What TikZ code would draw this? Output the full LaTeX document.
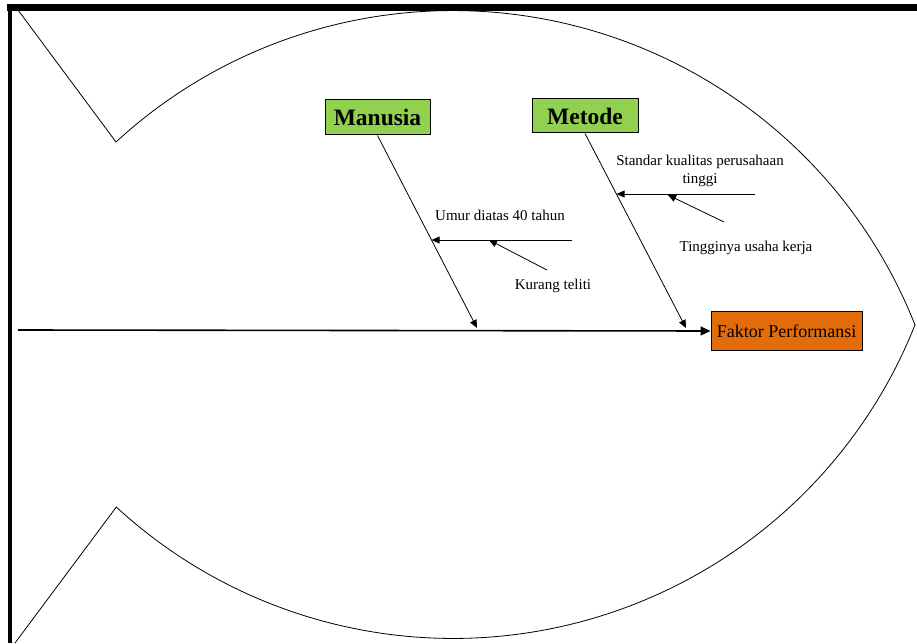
\documentclass[tikz,border=0pt]{standalone}
\usepackage{fontspec}
\setmainfont{Liberation Serif}
\definecolor{ijau}{HTML}{92D050}
\definecolor{oranye}{HTML}{E36C0A}
\usetikzlibrary{arrows.meta, calc}

\begin{document}
\begin{tikzpicture}[x=1pt, y=1pt,
        head/.style={rectangle, draw=black, fill=ijau, line width=1pt,
                     inner sep=0pt, text centered,
                     font=\fontsize{23.5}{25}\selectfont\bfseries},
        effect/.style={rectangle, draw=black, fill=oranye, line width=1pt,
                       inner sep=0pt, minimum width=151pt, minimum height=38pt,
                       text centered, font=\fontsize{18}{20}\selectfont},
        lbl/.style={font=\fontsize{15}{18}\selectfont, align=center, inner sep=0pt},
        arr/.style={-{Triangle[length=8pt, width=7pt]}, line width=0.8pt},
        spine/.style={-{Triangle[length=10pt, width=9pt]}, line width=1.6pt}
      ]
      \useasboundingbox (0,0) rectangle (917,643);
      % frame
      \fill (7,632) rectangle (917,639);
      \fill (8,0) rectangle (12,639);
      % fish
      \draw[line width=0.8pt] (18,633) -- (116,501)
        arc[start angle=132.64, end angle=21.57, radius=497.1]
        arc[start angle=-21.67, end angle=-132.64, radius=497.1]
        -- (15,0);

      \node[effect] (faktor) at (786.5,312) {Faktor Performansi};
      \node[head, minimum width=105pt, minimum height=35pt] (manusia) at (377.5,525.5) {Manusia};
      \node[head, minimum width=106pt, minimum height=34pt] (metode) at (585,527) {Metode};

      \coordinate (tail) at (18,313);
      \coordinate (mtip) at (477,315);
      \coordinate (ttip) at (686,315);
      \coordinate (u1) at (572,403);
      \coordinate (u2) at (431.6,403);
      \coordinate (k1) at (547,373);
      \coordinate (k2) at (489,403);
      \coordinate (s1) at (755,449);
      \coordinate (s2) at (616.6,449);
      \coordinate (t1) at (724,421);
      \coordinate (t2) at (668,448);

      \draw[spine] (tail) -- (faktor.west);
      \draw[arr] (manusia.south) -- (mtip);
      \draw[arr] (metode.south) -- (ttip);
      \draw[arr] (u1) -- (u2);
      \draw[arr] (k1) -- (k2);
      \draw[arr] (s1) -- (s2);
      \draw[arr] (t1) -- (t2);

      \node[lbl] (umur) at (500,428) {Umur diatas 40 tahun};
      \node[lbl] (teliti) at (553,357) {Kurang teliti};
      \node[lbl] (standar) at (700,472) {Standar kualitas perusahaan\\tinggi};
      \node[lbl] (usaha) at (746,395) {Tingginya usaha kerja};
\end{tikzpicture}
\end{document}
